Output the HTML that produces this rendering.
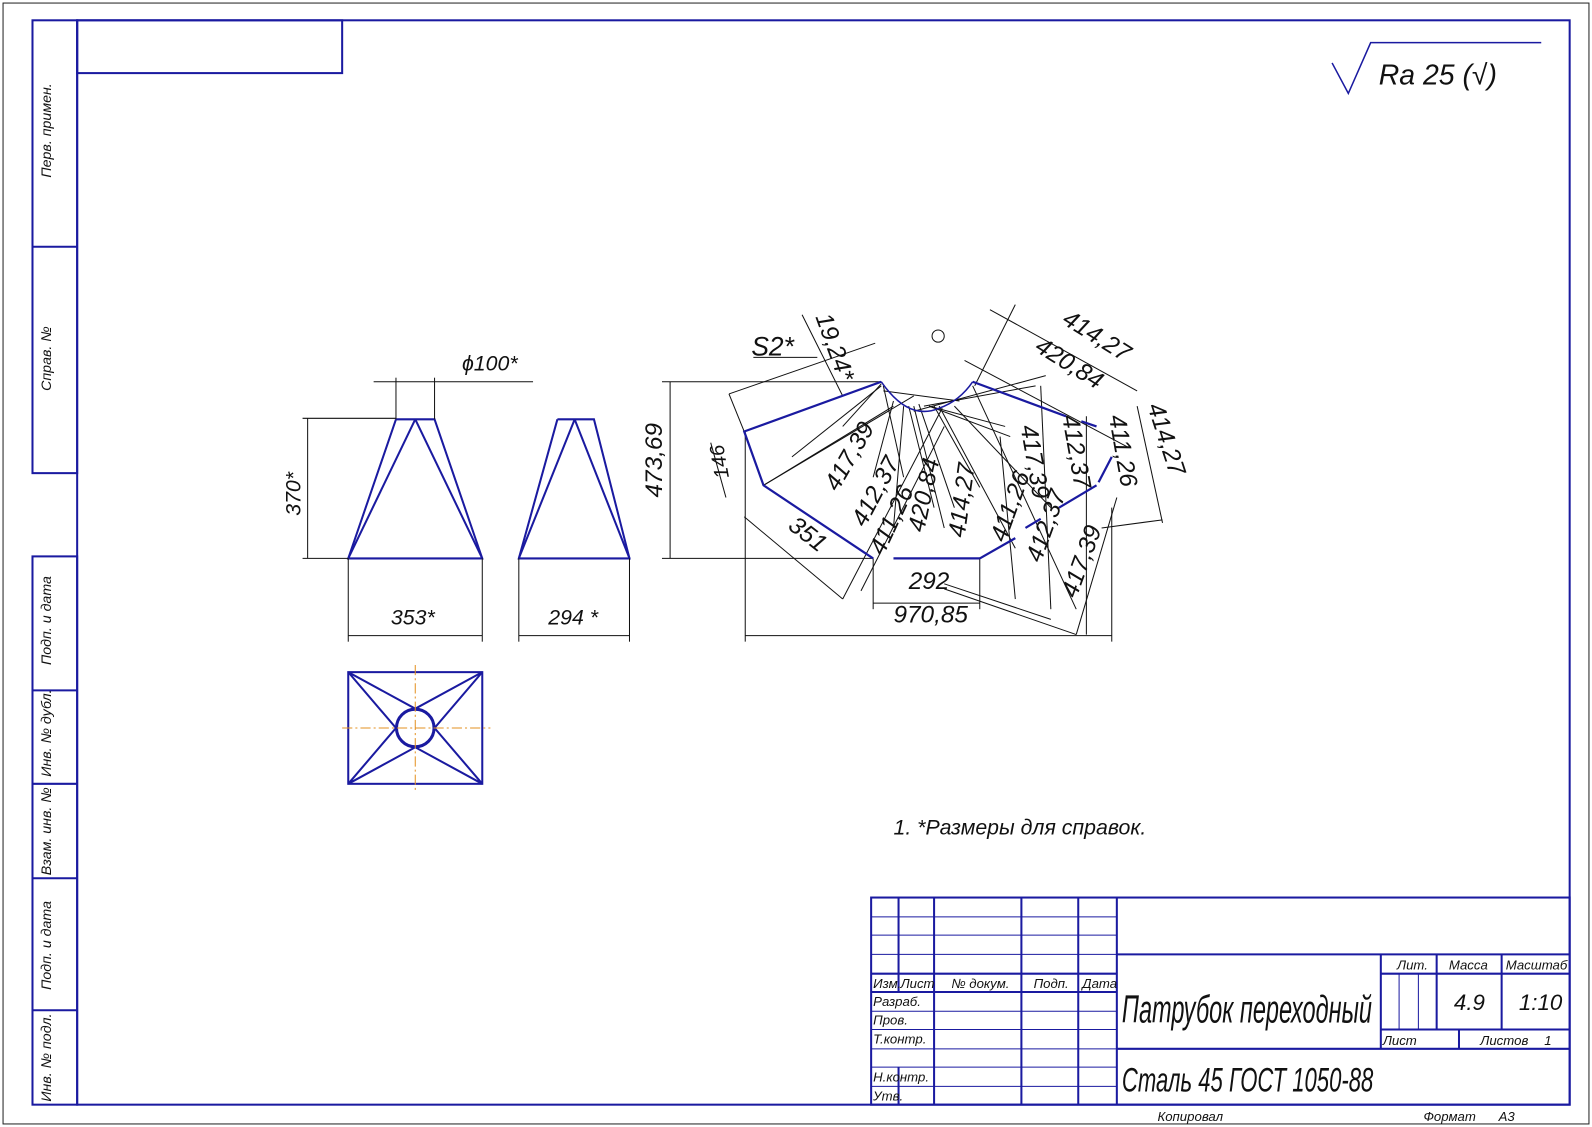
<!DOCTYPE html>
<html><head><meta charset="utf-8"><style>
html,body{margin:0;padding:0;background:#fff;}
svg{display:block;}
text{font-family:"Liberation Sans",sans-serif;font-style:italic;fill:#111;}
</style></head><body>
<svg width="1592" height="1127" viewBox="0 0 1568 1110" preserveAspectRatio="none" xmlns="http://www.w3.org/2000/svg">
<rect x="3" y="3" width="1562" height="1104" fill="none" stroke="#222" stroke-width="1"/>
<g fill="none" stroke="#1a1aa0" stroke-width="2">
<rect x="76" y="20" width="1470" height="1068"/>
<rect x="32" y="20" width="44" height="446"/>
<line x1="32" y1="243" x2="76" y2="243"/>
<rect x="32" y="548" width="44" height="540"/>
<line x1="32" y1="680" x2="76" y2="680"/><line x1="32" y1="772" x2="76" y2="772"/>
<line x1="32" y1="865" x2="76" y2="865"/><line x1="32" y1="995" x2="76" y2="995"/>
<rect x="76" y="20" width="261" height="52"/>
<rect x="858" y="884" width="688" height="204"/>
<line x1="885" y1="884" x2="885" y2="977"/><line x1="885" y1="1051" x2="885" y2="1088"/>
<line x1="920" y1="884" x2="920" y2="1088"/><line x1="1006" y1="884" x2="1006" y2="1088"/>
<line x1="1062" y1="884" x2="1062" y2="1088"/><line x1="1100" y1="884" x2="1100" y2="1088"/>
<line x1="858" y1="959" x2="1100" y2="959"/><line x1="858" y1="977" x2="1100" y2="977"/>
<line x1="1100" y1="940" x2="1546" y2="940"/><line x1="1100" y1="1033" x2="1546" y2="1033"/>
<line x1="1360" y1="940" x2="1360" y2="1033"/><line x1="1415" y1="940" x2="1415" y2="1014"/>
<line x1="1479" y1="940" x2="1479" y2="1014"/><line x1="1360" y1="959" x2="1546" y2="959"/>
<line x1="1360" y1="1014" x2="1546" y2="1014"/><line x1="1437" y1="1014" x2="1437" y2="1033"/>
</g>
<g stroke="#1a1aa0" stroke-width="1">
<line x1="858" y1="903" x2="1100" y2="903"/><line x1="858" y1="921" x2="1100" y2="921"/>
<line x1="858" y1="940" x2="1100" y2="940"/><line x1="858" y1="996" x2="1100" y2="996"/>
<line x1="858" y1="1014" x2="1100" y2="1014"/><line x1="858" y1="1033" x2="1100" y2="1033"/>
<line x1="858" y1="1051" x2="1100" y2="1051"/><line x1="858" y1="1070" x2="1100" y2="1070"/>
<line x1="1378" y1="959" x2="1378" y2="1014"/><line x1="1397" y1="959" x2="1397" y2="1014"/>
</g>
<g font-size="13">
<text x="860" y="973">Изм.</text><text x="887" y="973">Лист</text><text x="937" y="973">№ докум.</text>
<text x="1018" y="973">Подп.</text><text x="1066" y="973">Дата</text>
<text x="860" y="991">Разраб.</text><text x="860" y="1009">Пров.</text><text x="860" y="1028">Т.контр.</text>
<text x="860" y="1065">Н.контр.</text><text x="860" y="1084">Утв.</text>
<text x="1376" y="955">Лит.</text><text x="1427" y="955">Масса</text><text x="1483" y="955">Масштаб</text>
<text x="1362" y="1029">Лист</text><text x="1458" y="1029">Листов</text><text x="1521" y="1029">1</text>
<text x="1140" y="1104">Копировал</text><text x="1402" y="1104">Формат</text><text x="1476" y="1104">А3</text>
</g>
<text transform="translate(1105,1007) scale(0.61,1)" font-size="38">Патрубок переходный</text>
<text transform="translate(1105,1075) scale(0.64,1)" font-size="34">Сталь 45 ГОСТ 1050-88</text>
<text x="1432" y="995" font-size="22">4.9</text><text x="1496" y="995" font-size="22">1:10</text>
<g font-size="14">
<text transform="translate(50,175) rotate(-90)">Перв. примен.</text>
<text transform="translate(50,385) rotate(-90)">Справ. №</text>
<text transform="translate(50,655) rotate(-90)">Подп. и дата</text>
<text transform="translate(50,765) rotate(-90)">Инв. № дубл.</text>
<text transform="translate(50,862) rotate(-90)">Взам. инв. №</text>
<text transform="translate(50,975) rotate(-90)">Подп. и дата</text>
<text transform="translate(50,1085) rotate(-90)">Инв. № подл.</text>
</g>
<polyline points="1312,62 1328,92 1350,42 1518,42" fill="none" stroke="#1a1aa0" stroke-width="1.5"/>
<text x="1358" y="83" font-size="28">Ra 25 (√)</text>
<g fill="none" stroke="#1a1aa0" stroke-width="2">
<polyline points="390,413 428,413 475,550 343,550 390,413"/>
<line x1="409" y1="413" x2="343" y2="550"/><line x1="409" y1="413" x2="475" y2="550"/>
<polyline points="549,413 585,413 620,550 511,550 549,413"/>
<line x1="566" y1="413" x2="511" y2="550"/><line x1="566" y1="413" x2="620" y2="550"/>
<rect x="343" y="662" width="132" height="110"/>
<circle cx="409" cy="717" r="18.5" stroke-width="3"/>
<polyline points="343,662 409,698 475,662 428,717 475,772 409,736 343,772 390,717 343,662"/>
</g>
<g stroke="#e39020" stroke-width="1" stroke-dasharray="10,3,2,3">
<line x1="337" y1="717" x2="483" y2="717"/><line x1="409" y1="655" x2="409" y2="780"/>
</g>
<g stroke="#111" stroke-width="1" fill="none">
<line x1="390" y1="372" x2="390" y2="413"/><line x1="428" y1="372" x2="428" y2="413"/>
<line x1="368" y1="376" x2="525" y2="376"/>
<line x1="298" y1="412" x2="390" y2="412"/><line x1="298" y1="550" x2="343" y2="550"/>
<line x1="303" y1="412" x2="303" y2="550"/>
<line x1="343" y1="550" x2="343" y2="632"/><line x1="475" y1="550" x2="475" y2="632"/><line x1="343" y1="626" x2="475" y2="626"/>
<line x1="511" y1="550" x2="511" y2="632"/><line x1="620" y1="550" x2="620" y2="632"/><line x1="511" y1="626" x2="620" y2="626"/>
</g>
<text x="455" y="365" font-size="21">ϕ100*</text>
<text transform="translate(296,508) rotate(-90)" font-size="21">370*</text>
<text x="385" y="615" font-size="21">353*</text><text x="540" y="615" font-size="21">294 *</text>
<g stroke="#111" stroke-width="1" fill="none">
<line x1="652" y1="376" x2="868" y2="376"/><line x1="652" y1="550" x2="860" y2="550"/>
<line x1="660" y1="376" x2="660" y2="550"/>
<line x1="734" y1="425" x2="734" y2="632"/><line x1="1095" y1="500" x2="1095" y2="632"/>
<line x1="734" y1="626" x2="1095" y2="626"/>
<line x1="860" y1="550" x2="860" y2="600"/><line x1="965" y1="550" x2="965" y2="600"/><line x1="860" y1="594" x2="965" y2="594"/>
<line x1="718" y1="388" x2="862" y2="338"/><line x1="733" y1="425" x2="718" y2="388"/>
<line x1="700" y1="436" x2="715" y2="490"/>
<line x1="733" y1="509" x2="830" y2="590"/>
<line x1="975" y1="305" x2="1120" y2="385"/><line x1="950" y1="355" x2="1110" y2="440"/>
<line x1="1120" y1="400" x2="1145" y2="515"/><line x1="1085" y1="520" x2="1145" y2="512"/>
<line x1="1000" y1="300" x2="960" y2="380"/>
<line x1="790" y1="310" x2="830" y2="390"/>
<line x1="752" y1="478" x2="900" y2="390"/><line x1="752" y1="478" x2="880" y2="400"/>
<line x1="830" y1="590" x2="928" y2="402"/><line x1="848" y1="582" x2="930" y2="420"/>
<line x1="900" y1="400" x2="930" y2="520"/><line x1="905" y1="398" x2="940" y2="500"/>
<line x1="920" y1="400" x2="965" y2="480"/><line x1="925" y1="400" x2="1000" y2="540"/>
<line x1="940" y1="400" x2="1035" y2="500"/><line x1="958" y1="380" x2="1060" y2="600"/>
<line x1="985" y1="430" x2="1000" y2="590"/><line x1="1025" y1="380" x2="1035" y2="600"/>
<line x1="1070" y1="410" x2="1070" y2="625"/><line x1="1100" y1="490" x2="1060" y2="625"/>
<line x1="930" y1="575" x2="1035" y2="610"/><line x1="930" y1="580" x2="1060" y2="625"/>
<line x1="870" y1="380" x2="890" y2="470"/><line x1="880" y1="395" x2="860" y2="470"/>
<line x1="900" y1="405" x2="1030" y2="370"/><line x1="910" y1="400" x2="1020" y2="380"/>
<line x1="915" y1="400" x2="990" y2="420"/><line x1="915" y1="400" x2="995" y2="430"/>
<line x1="868" y1="378" x2="830" y2="420"/><line x1="868" y1="380" x2="780" y2="450"/>
<line x1="890" y1="400" x2="880" y2="520"/><line x1="895" y1="400" x2="920" y2="500"/>
<line x1="870" y1="385" x2="945" y2="395"/>
<circle cx="924" cy="331" r="6"/>
</g>
<g fill="none" stroke="#1a1aa0" stroke-width="2.2">
<polyline points="868,376 733,425 752,478 860,550"/>
<line x1="880" y1="550" x2="965" y2="550"/>
<polyline points="965,550 1000,530"/>
<line x1="1010" y1="520" x2="1025" y2="511"/>
<line x1="1043" y1="500" x2="1080" y2="478"/>
<line x1="1082" y1="475" x2="1095" y2="450"/>
<line x1="958" y1="376" x2="1050" y2="410"/>
<line x1="1065" y1="415" x2="1080" y2="420"/>
<path d="M868,376 Q895,415 925,402 Q945,395 958,376" stroke-width="1.5"/>
</g>
<g font-size="24">
<text x="740" y="350" font-size="26">S2*</text>
<line x1="742" y1="352" x2="805" y2="352" stroke="#111"/>
<text transform="translate(803,312) rotate(70)">19,24*</text>
<text transform="translate(718,470) rotate(-100)" font-size="20">146</text>
<text transform="translate(825,485) rotate(-60)">417,39</text>
<text transform="translate(852,520) rotate(-62)">412,37</text>
<text transform="translate(870,548) rotate(-65)">411,26</text>
<text transform="translate(910,525) rotate(-78)">420,84</text>
<text transform="translate(950,530) rotate(-82)">414,27</text>
<text transform="translate(775,520) rotate(38)">351</text>
<text x="895" y="580">292</text>
<text x="880" y="613">970,85</text>
<text transform="translate(990,535) rotate(-70)">411,26</text>
<text transform="translate(1025,555) rotate(-70)">412,37</text>
<text transform="translate(1060,590) rotate(-70)">417,39</text>
<text transform="translate(1005,420) rotate(80)">417,39</text>
<text transform="translate(1046,410) rotate(80)">412,37</text>
<text transform="translate(1092,410) rotate(80)">411,26</text>
<text transform="translate(1130,400) rotate(72)">414,27</text>
<text transform="translate(1045,318) rotate(32)">414,27</text>
<text transform="translate(1018,345) rotate(32)">420,84</text>
<text transform="translate(652,490) rotate(-90)">473,69</text>
</g>
<text x="880" y="822" font-size="21">1.  *Размеры для справок.</text>
</svg>
</body></html>
